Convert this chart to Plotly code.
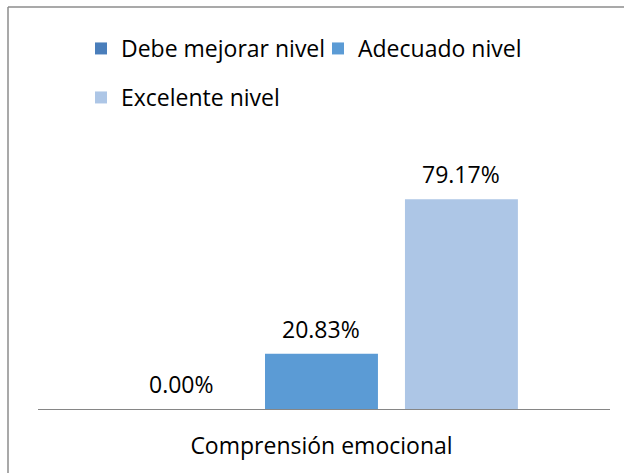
import plotly.graph_objects as go

categories = ["Comprensión emocional"]
series_names = ["Debe mejorar nivel", "Adecuado nivel", "Excelente nivel"]
values = [0.00, 20.83, 79.17]
colors = ["#4A7EBB", "#5B9BD5", "#ADC6E6"]

FONT = "Open Sans"
FS = 23
W, H = 624, 473
L, R, T, B = 38, 14, 144, 64
pw = W - L - R
ph = H - T - B

fig = go.Figure()
for i, (name, v, c) in enumerate(zip(series_names, values, colors)):
    fig.add_trace(go.Bar(
        x=categories, y=[v], name=name, marker=dict(color=c, line=dict(width=0)),
        legend="legend" if i < 2 else "legend2",
    ))
    fig.add_annotation(
        x=categories[0], y=v, xref="x", yref="y",
        text=f"{v:.2f}%", showarrow=False,
        xshift=(i - 1) * 140, yshift=25, yanchor="middle",
        font=dict(family=FONT, size=FS, color="#000000"),
    )

def px_x(p):
    return (p - L) / pw

def px_y(p):
    return (H - B - p) / ph

# chart-area frame: only the left and top edges fall inside the picture
fig.add_shape(type="line", xref="paper", yref="paper",
              x0=px_x(8), x1=px_x(8), y0=px_y(H + 20), y1=px_y(7),
              line=dict(color="#8C8C8C", width=1.5), layer="below")
fig.add_shape(type="line", xref="paper", yref="paper",
              x0=px_x(8), x1=px_x(W + 20), y0=px_y(7), y1=px_y(7),
              line=dict(color="#8C8C8C", width=1.5), layer="below")

fig.update_layout(
    width=W, height=H,
    margin=dict(l=L, r=R, t=T, b=B),
    paper_bgcolor="white", plot_bgcolor="white",
    barmode="group", bargap=0.266, bargroupgap=0.193,
    font=dict(family=FONT, size=FS, color="#000000"),
    legend=dict(orientation="h", x=px_x(81), y=px_y(27), xanchor="left", yanchor="top",
                entrywidth=192, font=dict(family=FONT, size=FS, color="#000000"),
                bgcolor="rgba(0,0,0,0)", traceorder="normal"),
    legend2=dict(orientation="h", x=px_x(81), y=px_y(76), xanchor="left", yanchor="top",
                 font=dict(family=FONT, size=FS, color="#000000"),
                 bgcolor="rgba(0,0,0,0)"),
    showlegend=True,
)
fig.update_xaxes(range=[-0.4956, 0.5044], showline=True, linecolor="#868686", linewidth=1,
                 ticks="", showgrid=False, ticklabelstandoff=16,
                 tickfont=dict(family=FONT, size=FS, color="#000000"))
fig.update_yaxes(range=[0, 100], visible=False, showgrid=False, zeroline=False)

fig.write_html("out.html", config={"displayModeBar": False})
with open("out.html", "r", encoding="utf-8") as f:
    html = f.read()
html = html.replace("<head>", "<head><style>html,body{margin:0;padding:0;overflow:hidden;}</style>", 1)
with open("out.html", "w", encoding="utf-8") as f:
    f.write(html)
